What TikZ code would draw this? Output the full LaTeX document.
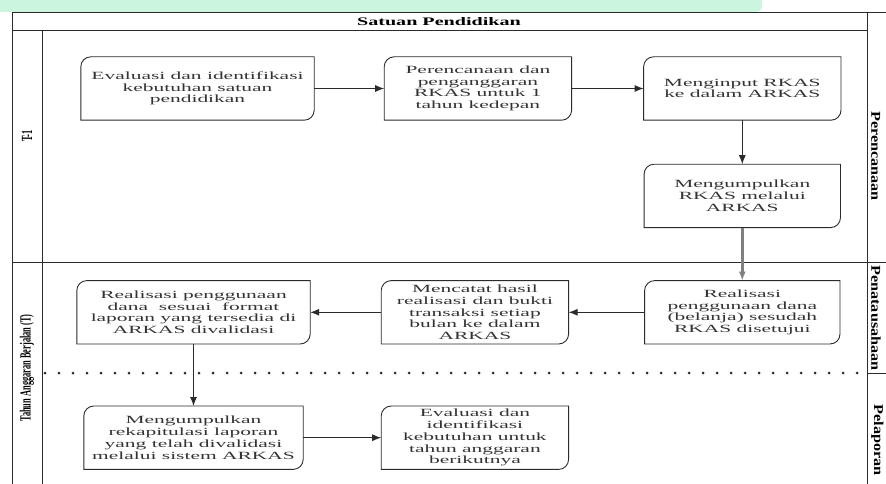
\documentclass[tikz,border=0pt]{standalone}
\usepackage{fontspec}
\setmainfont{Liberation Serif}
\newfontfamily\boxfont[FakeStretch=1.95]{Liberation Serif}
\newfontfamily\headfont[FakeStretch=1.75]{Liberation Serif}
\newfontfamily\lanefont[FakeStretch=0.54]{Liberation Serif}
\newfontfamily\sidefont[FakeStretch=1.2]{Liberation Serif}
\usetikzlibrary{arrows.meta,positioning}
\definecolor{mint}{HTML}{CCF5E0}
\definecolor{ln}{HTML}{2B2B2B}

\begin{document}
\begin{tikzpicture}[x=1pt, y=-1pt, node distance=70pt, >=Latex,
  proc/.style={minimum height=63pt, inner sep=1pt, align=center, text=black!80,
    font=\boxfont\fontsize{11}{11.7}\selectfont},
  flow/.style={-{Latex[length=9pt,width=7pt]}, line width=1pt, draw=ln},
  frame/.style={line width=1pt, draw=ln},
  lane/.style={rotate=90, inner sep=0pt, font=\lanefont\bfseries\fontsize{15.5}{15.5}\selectfont},
  side/.style={rotate=-90, anchor=south, inner sep=0pt,
    font=\sidefont\bfseries\fontsize{13.5}{13.5}\selectfont},
]
  \useasboundingbox (0,0) rectangle (886,484);
  \fill[mint, rounded corners=6pt] (-10,-10) rectangle (762,12);

  % pool and lanes
  \draw[frame] (12,484) -- (12,13) -- (886,13);
  \draw[frame] (867,13) -- (867,484);
  \draw[frame] (12,31) -- (867,31);
  \draw[frame] (42,31) -- (42,484);
  \draw[frame] (12,262) -- (886,262);
  \draw[frame, line cap=round, dash pattern=on 0pt off 14pt, line width=3pt] (45,373) -- (867,373);
  \draw[frame] (867,373) -- (886,373);

  \node[font=\headfont\bfseries\fontsize{11.5}{11.5}\selectfont] (pool) at (439,22) {Satuan Pendidikan};
  \node[lane] (prev) at (27,136) {T-1};
  \node[lane] (curr) at (27,368) {Tahun Anggaran Berjalan (T)};
  \node[side] (plan) at (871,156) {Perencanaan};
  \node[side] (admin) at (871,318) {Penatausahaan};
  \node[side] (report) at (871,440) {Pelaporan};

  % process steps
  \node[proc, minimum width=233pt] (eval1) at (197.5,88.5)
    {Evaluasi dan identifikasi\\kebutuhan satuan\\pendidikan};
  \node[proc, minimum width=187pt, right=70pt of eval1] (rencana)
    {Perencanaan dan\\penganggaran\\RKAS untuk 1\\tahun kedepan};
  \node[proc, minimum width=197pt, right=72pt of rencana] (input)
    {Menginput RKAS\\ke dalam ARKAS};
  \node[proc, minimum width=196pt, below=44pt of input] (kumpul)
    {Mengumpulkan\\RKAS melalui\\ARKAS};
  \node[proc, minimum width=195pt, below=53pt of kumpul] (realisasi)
    {Realisasi\\penggunaan dana\\(belanja) sesudah\\RKAS disetujui};
  \node[proc, minimum width=187pt, left=76pt of realisasi] (catat)
    {Mencatat hasil\\realisasi dan bukti\\transaksi setiap\\bulan ke dalam\\ARKAS};
  \node[proc, minimum width=233pt, left=71pt of catat] (validasi)
    {Realisasi penggunaan\\dana\ \ sesuai\ \ format\\laporan yang tersedia di\\ARKAS divalidasi};
  \node[proc, minimum width=219pt, below=62pt of validasi] (rekap)
    {Mengumpulkan\\rekapitulasi laporan\\yang telah divalidasi\\melalui sistem ARKAS};
  \node[proc, minimum width=187pt, right=78pt of rekap] (eval2)
    {Evaluasi dan\\identifikasi\\kebutuhan untuk\\tahun anggaran\\berikutnya};

  % box outlines: rounded top left and bottom right
  \foreach \n in {eval1,rencana,input,kumpul,realisasi,catat,validasi,rekap,eval2}
    \draw[line width=0.9pt, ln] ([yshift=-10pt]\n.north west)
      arc[start angle=180, end angle=90, radius=10pt] -- (\n.north east)
      -- ([yshift=10pt]\n.south east)
      arc[start angle=0, end angle=-90, radius=10pt] -- (\n.south west) -- cycle;

  % flow
  \draw[flow] (eval1) -- (rencana);
  \draw[flow] (rencana) -- (input);
  \draw[flow] (input) -- (kumpul);
  \draw[flow, draw=black!50, line width=2.5pt] (kumpul) -- (realisasi);
  \draw[flow] (realisasi) -- (catat);
  \draw[flow] (catat) -- (validasi);
  \draw[flow] (validasi) -- (rekap);
  \draw[flow] (rekap) -- (eval2);
\end{tikzpicture}
\end{document}
